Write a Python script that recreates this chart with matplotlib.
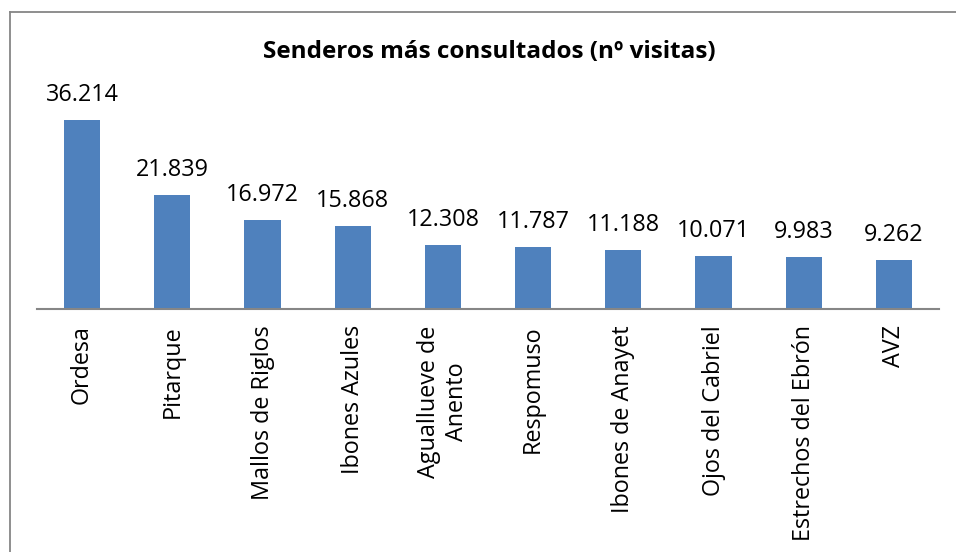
import matplotlib.pyplot as plt
from matplotlib.lines import Line2D

plt.rcParams["font.family"] = ["Open Sans", "DejaVu Sans"]

# datos
senderos = ["Ordesa", "Pitarque", "Mallos de Riglos", "Ibones Azules",
            "Aguallueve de\nAnento", "Respomuso", "Ibones de Anayet",
            "Ojos del Cabriel", "Estrechos del Ebrón", "AVZ"]
visitas = [36214, 21839, 16972, 15868, 12308, 11787, 11188, 10071, 9983, 9262]

COR_BARRA = "#4F81BD"
COR_EIXO = "#868686"

W, H = 956, 552
fig = plt.figure(figsize=(W / 100, H / 100), dpi=100)

# marco del gráfico (sólo izquierda y arriba visibles)
fig.add_artist(Line2D([9.5 / W, 9.5 / W], [0, 1 - 11.5 / H],
                      transform=fig.transFigure, color=COR_EIXO, lw=1.3))
fig.add_artist(Line2D([9.5 / W, 1], [1 - 11.5 / H, 1 - 11.5 / H],
                      transform=fig.transFigure, color=COR_EIXO, lw=1.3))

base = 308.7
top = 100.3
ax = fig.add_axes([37 / W, (H - base) / H, (939 - 37) / W, (base - top) / H])

x = range(len(senderos))
ax.bar(x, visitas, width=0.4, color=COR_BARRA)
ax.set_xlim(-0.5, len(senderos) - 0.5)
ax.set_ylim(0, 40000)

for xi, v in zip(x, visitas):
    txt = f"{v:,}".replace(",", ".")
    ax.annotate(txt, (xi, v), xytext=(0, 18), textcoords="offset points",
                ha="center", va="center", fontsize=16.8, annotation_clip=False)

ax.set_xticks(list(x))
ax.set_xticklabels(senderos, rotation=90, fontsize=16.8, ha="center",
                   va="top", multialignment="center")
ax.tick_params(axis="x", length=0, pad=12)
ax.set_yticks([])

for s in ["top", "right", "left"]:
    ax.spines[s].set_visible(False)
ax.spines["bottom"].set_color(COR_EIXO)
ax.spines["bottom"].set_linewidth(1.5)

fig.text(489 / W, 1 - 52 / H, "Senderos más consultados (nº visitas)",
         ha="center", va="center", fontsize=17.5, fontweight="bold")

fig.savefig("out.png", dpi=100)
